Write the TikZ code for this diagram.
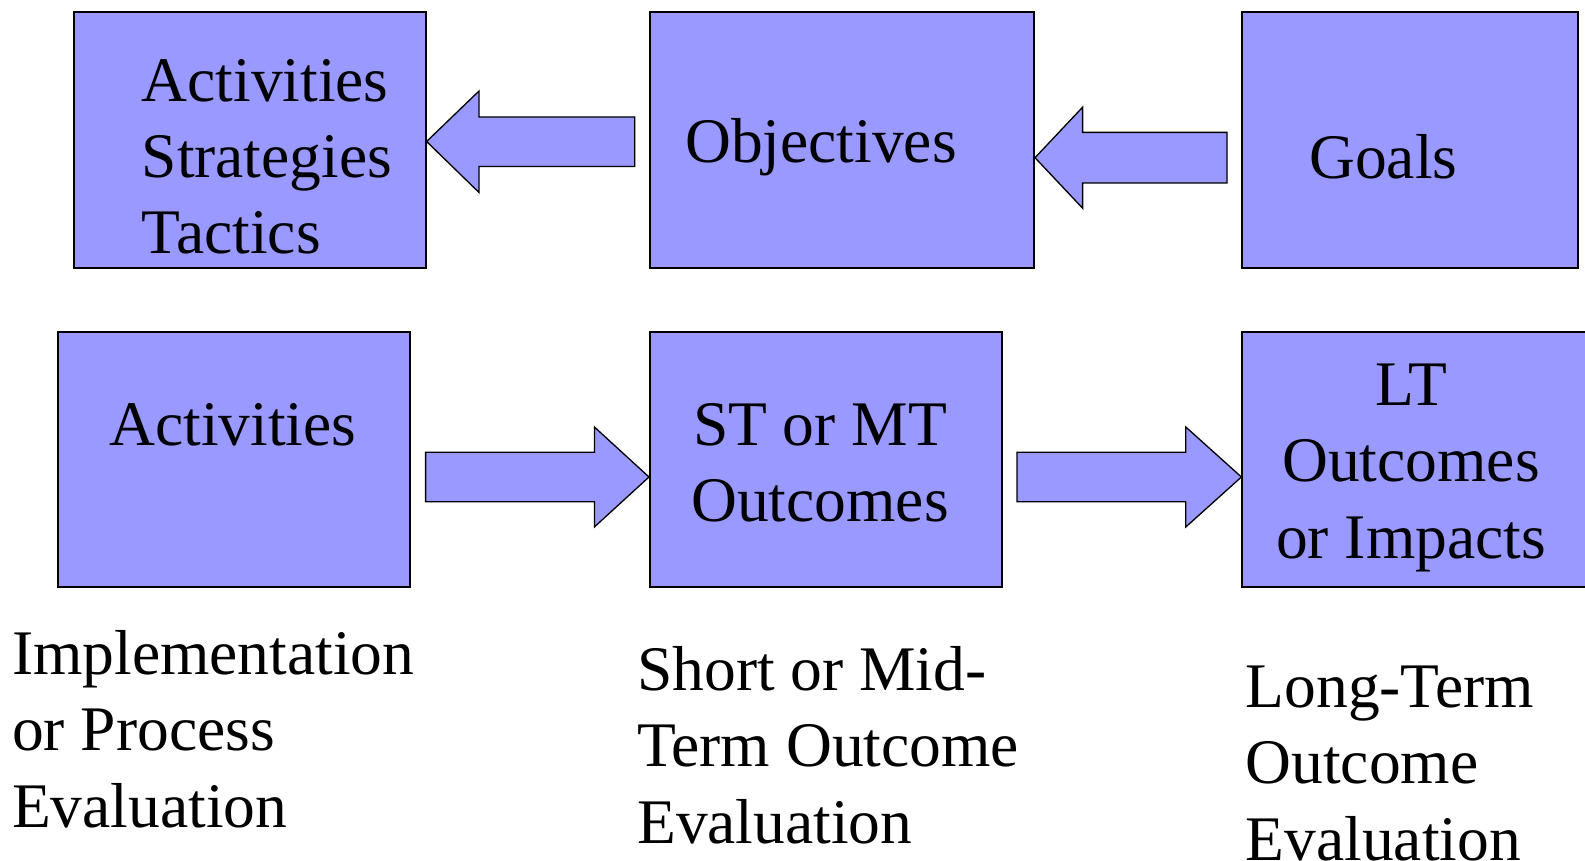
\documentclass[tikz,border=0pt]{standalone}
\usepackage{fontspec}
\setmainfont{Liberation Serif}
\usepackage{xcolor}
\definecolor{planblue}{RGB}{153,153,255}
\tikzset{
    plan-box/.style = {draw=black, fill=planblue, line width=2pt, rectangle, inner sep=0pt, anchor=north west},
    plan-text/.style = {font=\fontsize{63.5}{76.5}\selectfont, inner sep=0pt, align=left},
    block-arrow/.style = {draw=black, fill=planblue, line width=1.3pt, line join=miter},
}

\begin{document}
\begin{tikzpicture}[x=1pt, y=-1pt]
\useasboundingbox (0,0) rectangle (1585,861);
% top row: planning
\node [plan-box, minimum width=351.8, minimum height=255.8] (acts) at (72.8,11.1) {};
\node [plan-box, minimum width=384, minimum height=255.8] (objs) at (649,11.1) {};
\node [plan-box, minimum width=335.6, minimum height=255.8] (goals) at (1241.4,11.1) {};
% bottom row: evaluation
\node [plan-box, minimum width=352.8, minimum height=255.7] (acts-ev) at (56.6,330.6) {};
\node [plan-box, minimum width=351.8, minimum height=255.7] (st-ev) at (649,330.6) {};
\node [plan-box, minimum width=360, minimum height=255.7] (lt-ev) at (1241.4,330.6) {};

% base of a multi-line text is its last line
\node [plan-text, anchor=base west] (acts-txt) at (141.5,254) {Activities\\Strategies\\Tactics};
\node [plan-text, anchor=base west] (objs-txt) at (685,163) {Objectives};
\node [plan-text, anchor=base west] (goals-txt) at (1309,179) {Goals};
\node [plan-text, anchor=base] (acts-ev-txt) at (233,445) {Activities};
\node [plan-text, align=center, anchor=base] (st-ev-txt) at (820,521.5) {ST or MT\\Outcomes};
\node [plan-text, align=center, anchor=base] (lt-ev-txt) at (1411,558) {LT\\Outcomes\\or Impacts};

\node [plan-text, anchor=base west] (impl-lbl) at (12,827) {Implementation\\or Process\\Evaluation};
\node [plan-text, anchor=base west] (short-lbl) at (637,843) {Short or Mid-\\Term Outcome\\Evaluation};
\node [plan-text, anchor=base west] (long-lbl) at (1245.5,860) {Long-Term\\Outcome\\Evaluation};

% block arrows
\coordinate (tip-a) at (acts.east |- 0,141.5);
\coordinate (tip-b) at (objs.east |- 0,157.7);
\coordinate (tip-c) at (st-ev.west |- 0,477);
\coordinate (tip-d) at (lt-ev.west |- 0,477);
\draw [block-arrow] (tip-a) -- ++(52.4,-50.5) -- ++(0,26) -- ++(155.8,0) -- ++(0,49.5) -- ++(-155.8,0) -- ++(0,26) -- cycle;
\draw [block-arrow] (tip-b) -- ++(47.6,-50.5) -- ++(0,25.2) -- ++(144.4,0) -- ++(0,50.6) -- ++(-144.4,0) -- ++(0,25.2) -- cycle;
\draw [block-arrow] (tip-c) -- ++(-54.6,-50) -- ++(0,25.3) -- ++(-168.8,0) -- ++(0,49.5) -- ++(168.8,0) -- ++(0,25.2) -- cycle;
\draw [block-arrow] (tip-d) -- ++(-55.6,-50) -- ++(0,25.3) -- ++(-168.8,0) -- ++(0,49.5) -- ++(168.8,0) -- ++(0,25.2) -- cycle;
\end{tikzpicture}
\end{document}
